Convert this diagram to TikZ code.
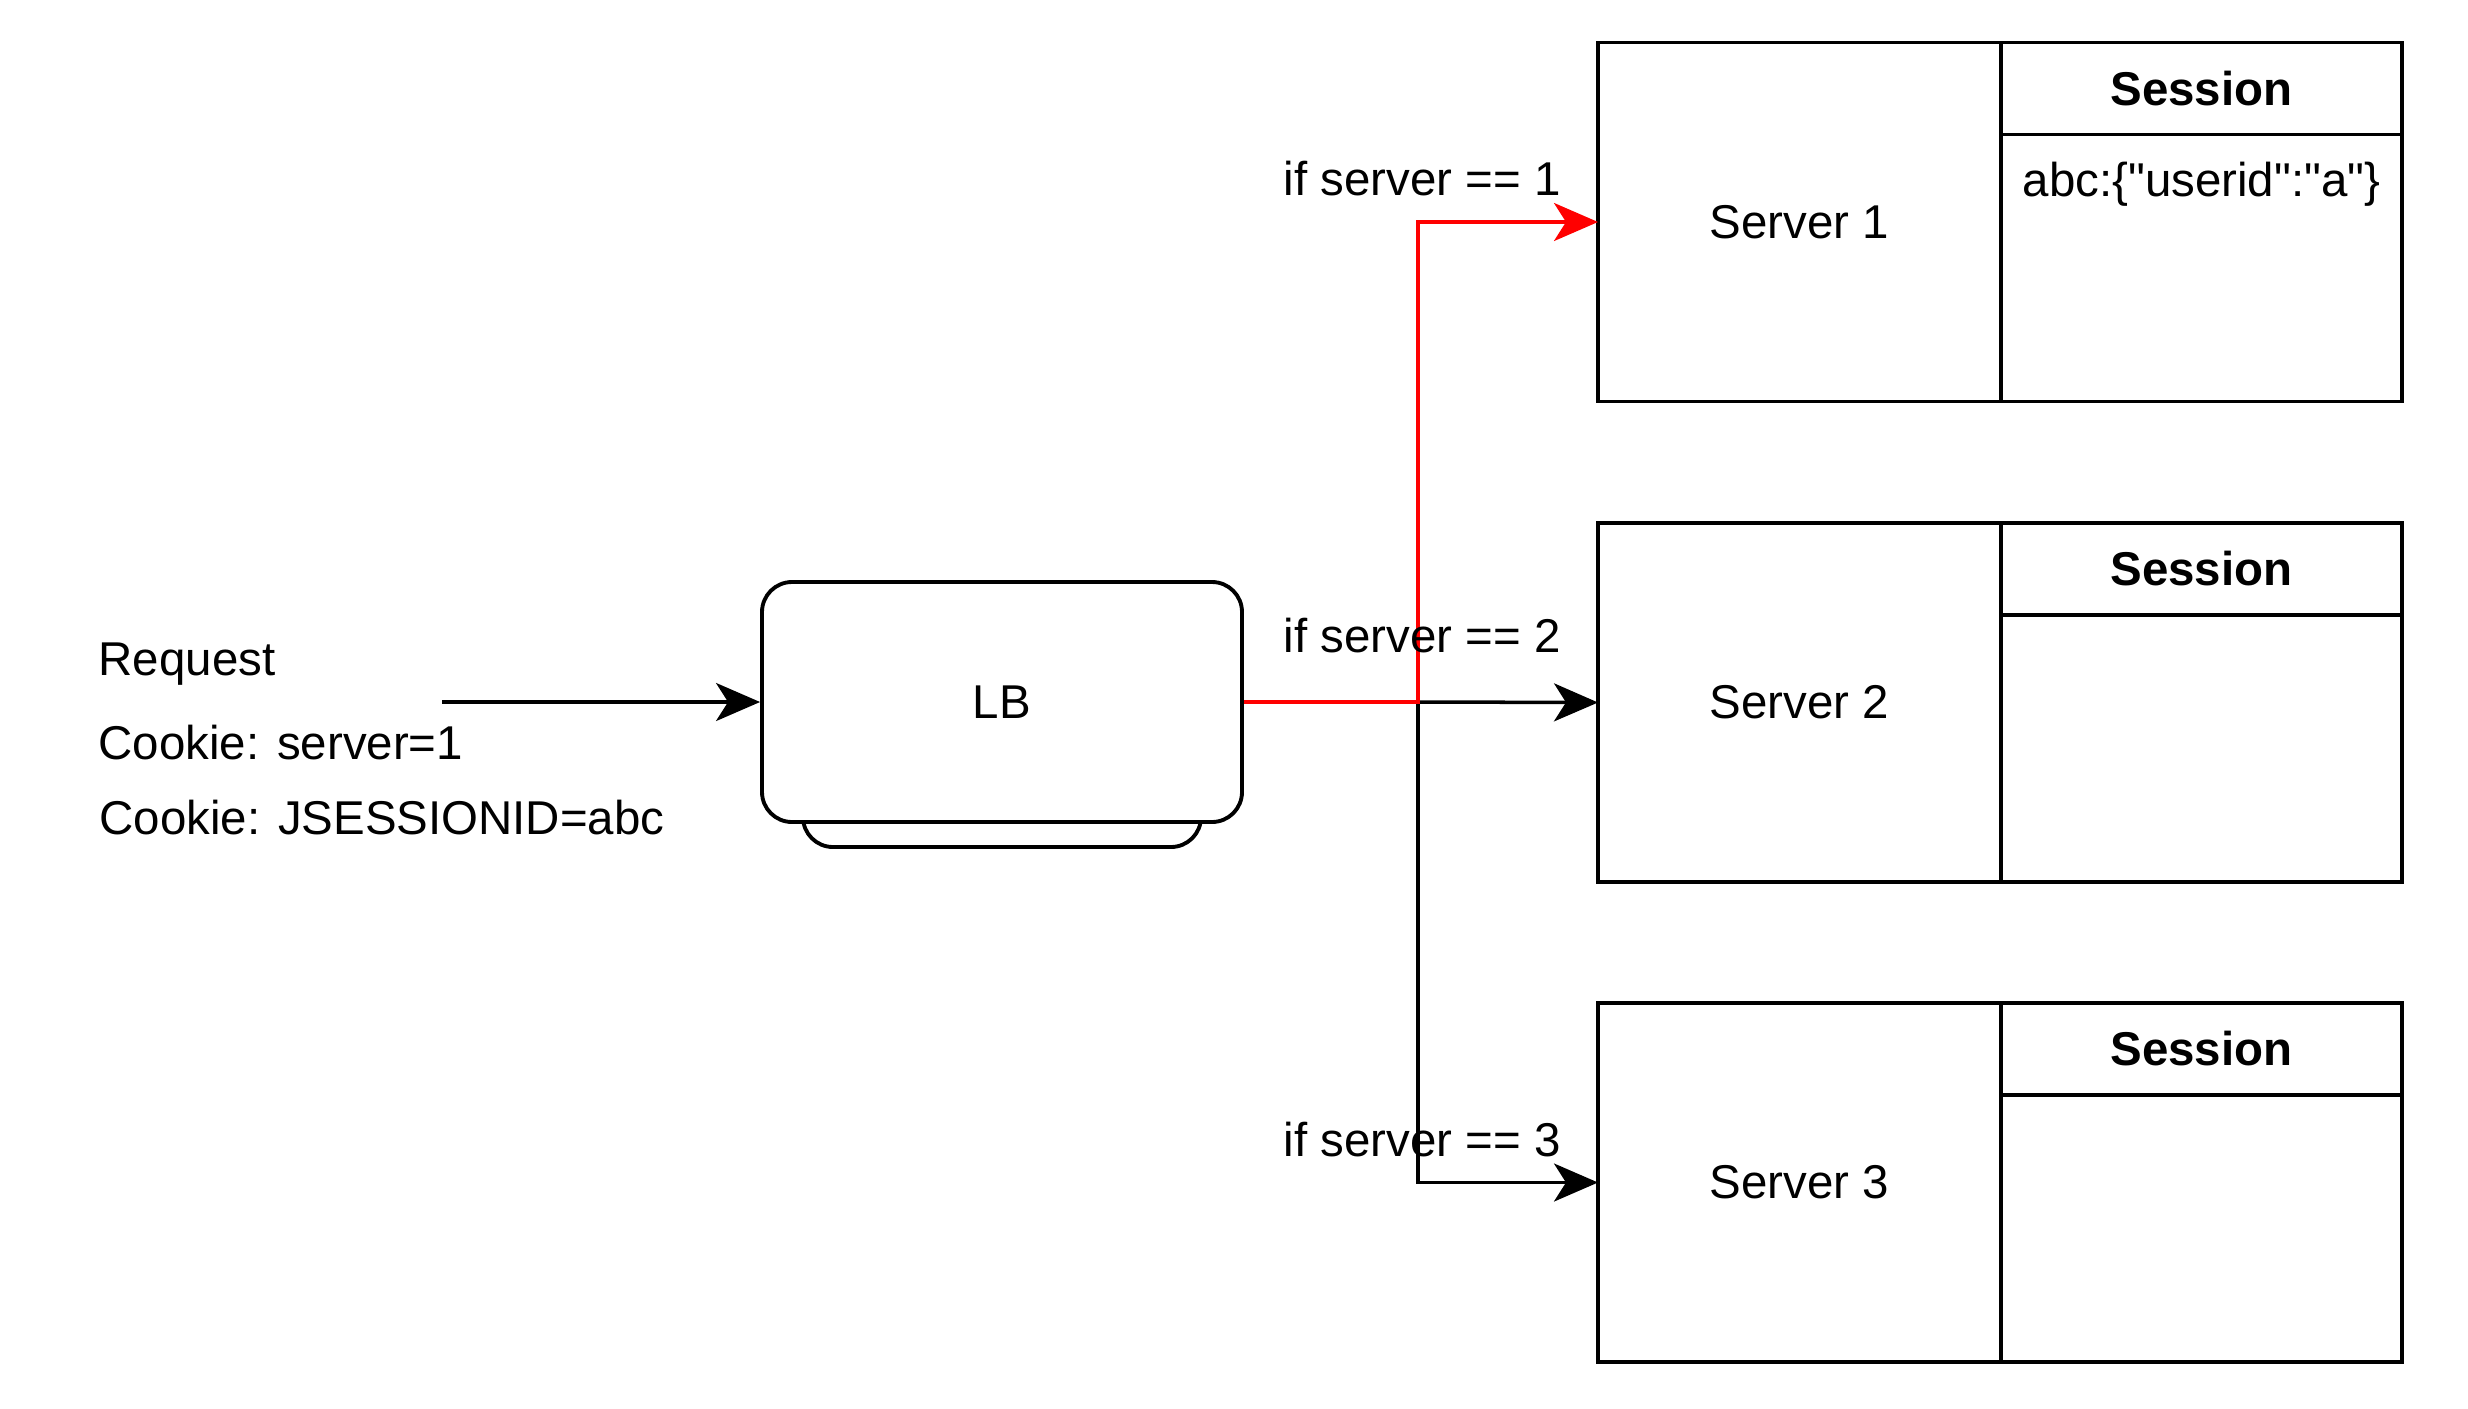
\documentclass[tikz,border=0pt]{standalone}
\usepackage{fontspec}
\setmainfont{Liberation Sans}[Ligatures=TeXOff]
\usetikzlibrary{positioning,arrows.meta}

\begin{document}
\begin{tikzpicture}[
    base/.style={font=\fontsize{13.5}{16}\selectfont},
    srvbox/.style={draw, line width=1.1pt, base, minimum width=4.03cm, minimum height=3.59cm, anchor=north west, inner sep=0pt, outer sep=0pt},
    sesshead/.style={draw, line width=1.1pt, font=\fontsize{13.5}{16}\selectfont\bfseries, minimum width=4.01cm, minimum height=0.92cm, anchor=north west, inner sep=0pt, outer sep=0pt},
    sessbody/.style={draw, line width=1.1pt, minimum width=4.01cm, minimum height=2.67cm, inner sep=0pt, outer sep=0pt},
    lbbox/.style={draw, rounded corners=0.3cm, line width=1.1pt, fill=white, base},
    txt/.style={base, anchor=west, inner sep=0pt},
    link/.style={-{Stealth[length=4.4mm, width=3.8mm, inset=1.2mm]}, line width=1pt}
]
\useasboundingbox (0,0) rectangle (24.68,-14.08);

% client side
\node[txt] (req) at (0.98,-6.64) {Request};
\node[txt] (cookie1) at (0.98,-7.43) {Cookie: server=1};
\node[txt] (cookie2) at (0.99,-8.18) {Cookie: JSESSIONID=abc};
\coordinate (reqstart) at (4.42,-7.02);

% load balancer
\node[lbbox, minimum width=3.98cm, minimum height=1cm] (lbtray) at (10.02,-7.97) {};
\node[lbbox, minimum width=4.8cm, minimum height=2.4cm] (lb) at (10.02,-7.02) {LB};

% servers
\node[srvbox] (server1) at (15.98,-0.425) {Server 1};
\node[sesshead] (head1) at (server1.north east) {Session};
\node[sessbody, below=0pt of head1] (body1) {};
\node[base, anchor=base] (data1) at ([yshift=-0.62cm]body1.north) {abc:\{"userid":"a"\}};

\node[srvbox] (server2) at (15.98,-5.23) {Server 2};
\node[sesshead] (head2) at (server2.north east) {Session};
\node[sessbody, below=0pt of head2] (body2) {};

\node[srvbox] (server3) at (15.98,-10.03) {Server 3};
\node[sesshead] (head3) at (server3.north east) {Session};
\node[sessbody, below=0pt of head3] (body3) {};

% routing
\coordinate (split) at (14.18,-7.02);
\draw[link] (reqstart) -- (lb.west);
\draw[link] (split) -- (server2.west);
\draw[link] (split) |- (server3.west);
\draw[link, red] (lb.east) -- (split) |- (server1.west);

\node[txt] (cond1) at (12.83,-1.79) {if server == 1};
\node[txt] (cond2) at (12.83,-6.36) {if server == 2};
\node[txt] (cond3) at (12.83,-11.40) {if server == 3};
\end{tikzpicture}
\end{document}
